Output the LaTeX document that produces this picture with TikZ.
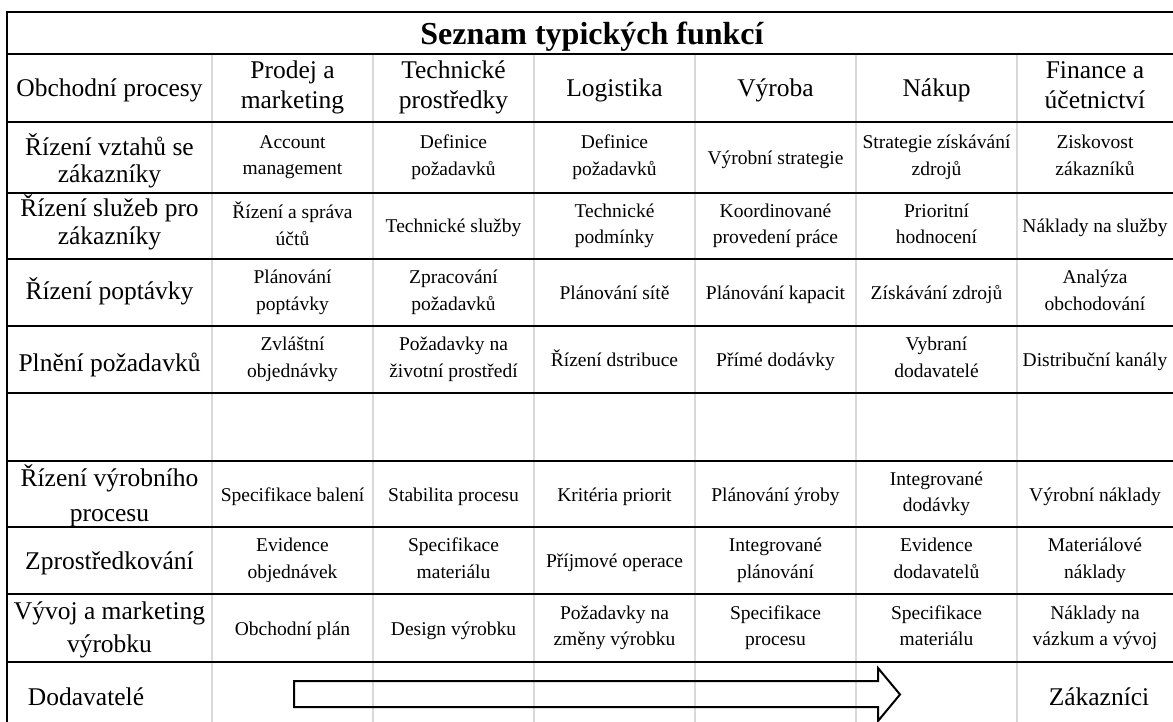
\documentclass[tikz,border=0pt]{standalone}
\usepackage{fontspec}
\setmainfont{Liberation Serif}
\definecolor{gridgray}{RGB}{217,217,217}
\newcommand\smallstrut{\vrule width 0pt height 19pt depth 5pt\relax}
\newcommand\bigstrut{\vrule width 0pt height 24pt depth 5pt\relax}
\newcommand\tabrow[8]{%
  \node[cell] (#1c1) at (292.5,#2) {#3};
  \node[cell] (#1c2) at (453.5,#2) {#4};
  \node[cell] (#1c3) at (614.5,#2) {#5};
  \node[cell] (#1c4) at (775.5,#2) {#6};
  \node[cell] (#1c5) at (936.5,#2) {#7};
  \node[cell] (#1c6) at (1095,#2) {#8};
}
\begin{document}
\begin{tikzpicture}[x=1pt,y=-1pt,
  gridline/.style={draw=gridgray, line width=1.6pt},
  rule/.style={draw=black, line width=2.2pt},
  cell/.style={align=center, font=\fontsize{19.5}{26.5}\selectfont, inner sep=0pt,
    execute at begin node=\smallstrut, execute at end node=\smallstrut},
  big/.style={align=center, font=\fontsize{25.5}{#1}\selectfont, inner sep=0pt,
    execute at begin node=\bigstrut, execute at end node=\bigstrut},
  big/.default=29,
  titlestyle/.style={font=\fontsize{32}{36}\selectfont\bfseries, inner sep=0pt, anchor=base},
  arrowshape/.style={draw=black, line width=2pt}]
\useasboundingbox (0,0) rectangle (1173,722);
% grid
\foreach \x in {212,373,534,695,856,1017}
  \draw[gridline] (\x,54) -- (\x,722);
\foreach \y in {12,54,122,193,259,326,393,461,527,594,662}
  \draw[rule] (6,\y) -- (1173,\y);
\draw[rule] (7,11) -- (7,722);
% title
\node[titlestyle] (title) at (592,45) {Seznam typických funkcí};
% header
\node[big=30] (h0) at (109.5,87.5) {Obchodní procesy};
\node[big=30] (h1) at (292.5,87.5) {Prodej a\\marketing};
\node[big=30] (h2) at (453.5,87.5) {Technické\\prostředky};
\node[big=30] (h3) at (614.5,87.5) {Logistika};
\node[big=30] (h4) at (775.5,87.5) {Výroba};
\node[big=30] (h5) at (936.5,87.5) {Nákup};
\node[big=30] (h6) at (1095,87.5) {Finance a\\účetnictví};
% row labels
\node[big=27] (rac0) at (109.5,161) {Řízení vztahů se\\zákazníky};
\node[big=28] (rbc0) at (109.5,222.5) {Řízení služeb pro\\zákazníky};
\node[big] (rcc0) at (109.5,290.5) {Řízení poptávky};
\node[big] (rdc0) at (109.5,362.5) {Plnění požadavků};
\node[big=35] (rfc0) at (109.5,495.5) {Řízení výrobního\\procesu};
\node[big] (rgc0) at (109.5,560.5) {Zprostředkování};
\node[big=33] (rhc0) at (109.5,629.5) {Vývoj a marketing\\výrobku};
% cells
\tabrow{ra}{157.5}{Account\\management}{Definice\\požadavků}{Definice\\požadavků}{Výrobní strategie}{Strategie získávání\\zdrojů}{Ziskovost\\zákazníků}
\tabrow{rb}{226}{Řízení a správa\\účtů}{Technické služby}{Technické\\podmínky}{Koordinované\\provedení práce}{Prioritní\\hodnocení}{Náklady na služby}
\tabrow{rc}{292.5}{Plánování\\poptávky}{Zpracování\\požadavků}{Plánování sítě}{Plánování kapacit}{Získávání zdrojů}{Analýza\\obchodování}
\tabrow{rd}{359.5}{Zvláštní\\objednávky}{Požadavky na\\životní prostředí}{Řízení dstribuce}{Přímé dodávky}{Vybraní\\dodavatelé}{Distribuční kanály}
\tabrow{rf}{494}{Specifikace balení}{Stabilita procesu}{Kritéria priorit}{Plánování ýroby}{Integrované\\dodávky}{Výrobní náklady}
\tabrow{rg}{560.5}{Evidence\\objednávek}{Specifikace\\materiálu}{Příjmové operace}{Integrované\\plánování}{Evidence\\dodavatelů}{Materiálové\\náklady}
\tabrow{rh}{628}{Obchodní plán}{Design výrobku}{Požadavky na\\změny výrobku}{Specifikace\\procesu}{Specifikace\\materiálu}{Náklady na\\vázkum a vývoj}
% last row
\node[big] (supp) at (86,696) {Dodavatelé};
\node[big] (cust) at (1099,695.5) {Zákazníci};
\draw[arrowshape] (294,681) -- (878,681) -- (878,668) -- (900,694.5) -- (878,721) -- (878,707) -- (294,707) -- cycle;
\end{tikzpicture}
\end{document}
